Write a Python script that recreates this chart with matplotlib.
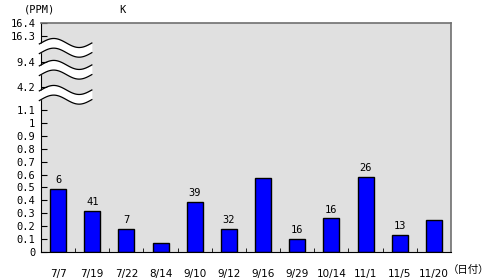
import numpy as np
import matplotlib
matplotlib.use("Agg")
import matplotlib.pyplot as plt
import matplotlib.transforms as mtransforms

# data
dates = ["7/7", "7/19", "7/22", "8/14", "9/10", "9/12", "9/16", "9/29", "10/14", "11/1", "11/5", "11/20"]
values = [0.49, 0.32, 0.18, 0.07, 0.39, 0.18, 0.57, 0.10, 0.26, 0.58, 0.13, 0.25]
notes = ["6", "41", "7", "", "39", "32", "", "16", "16", "26", "13", ""]

# broken y axis: real tick labels and where they sit on the drawn scale
ytick_labels = ["0", "0.1", "0.2", "0.3", "0.4", "0.5", "0.6", "0.7", "0.8", "0.9", "1",
                "1.1", "4.2", "9.4", "16.3", "16.4"]
ytick_pos = [0.0, 0.1, 0.2, 0.3, 0.4, 0.5, 0.6, 0.7, 0.8, 0.9, 1.0,
             1.1, 1.279, 1.473, 1.674, 1.775]

mono = "DejaVu Sans Mono"

fig = plt.figure(figsize=(4.89, 2.79), dpi=100)
ax = fig.add_axes([41 / 489, 27 / 279, 410 / 489, 229 / 279])
ax.set_facecolor("#e0e0e0")

x = np.arange(len(dates))
ax.bar(x, values, width=0.47, color="#0000ff", edgecolor="black", linewidth=1, zorder=2)

for xi, v, n in zip(x, values, notes):
    if n:
        ax.text(xi, v + 0.03, n, ha="center", va="bottom", fontsize=7.5, family=mono)

ax.set_xlim(-0.5, len(dates) - 0.5)
ax.set_ylim(0, 1.775)

ax.set_xticks(x)
ax.set_xticklabels(dates, fontsize=7.5)
ax.set_xticks(np.arange(len(dates) - 1) + 0.5, minor=True)
ax.tick_params(axis="x", which="major", length=0, pad=12)
ax.tick_params(axis="x", which="minor", direction="in", length=3, color="black")

ax.set_yticks(ytick_pos)
ax.set_yticklabels(ytick_labels, fontsize=7.5, family=mono)
ax.tick_params(axis="y", direction="in", length=4, pad=4)

for s in ["top", "right"]:
    ax.spines[s].set_color("#707070")
    ax.spines[s].set_linewidth(1.2)
for s in ["left", "bottom"]:
    ax.spines[s].set_color("black")

# wavy white bands marking the axis breaks
trans = mtransforms.blended_transform_factory(ax.transAxes, ax.transData)
wx = np.linspace(-0.004, 0.124, 80)
amp = 0.035
for top in [1.62, 1.45, 1.256]:
    yt = top + amp * np.sin(2 * np.pi * wx / 0.124)
    yb = yt - 0.075
    ax.fill_between(wx, yb, yt, transform=trans, color="white", zorder=5, clip_on=False, linewidth=0)
    ax.plot(wx, yt, transform=trans, color="black", lw=0.9, zorder=6, clip_on=False)
    ax.plot(wx, yb, transform=trans, color="black", lw=0.9, zorder=6, clip_on=False)

fig.text(40 / 489, 1 - 10 / 279, "(PPM)", ha="center", va="center", fontsize=7.5, family=mono)
fig.text(122 / 489, 1 - 10 / 279, "K", ha="center", va="center", fontsize=7.5, family=mono)
fig.text(469 / 489, 1 - 270 / 279, "（日付）", ha="center", va="center", fontsize=7.5,
         family=["Noto Sans CJK JP", "DejaVu Sans"])

fig.savefig("out.png", dpi=100)
